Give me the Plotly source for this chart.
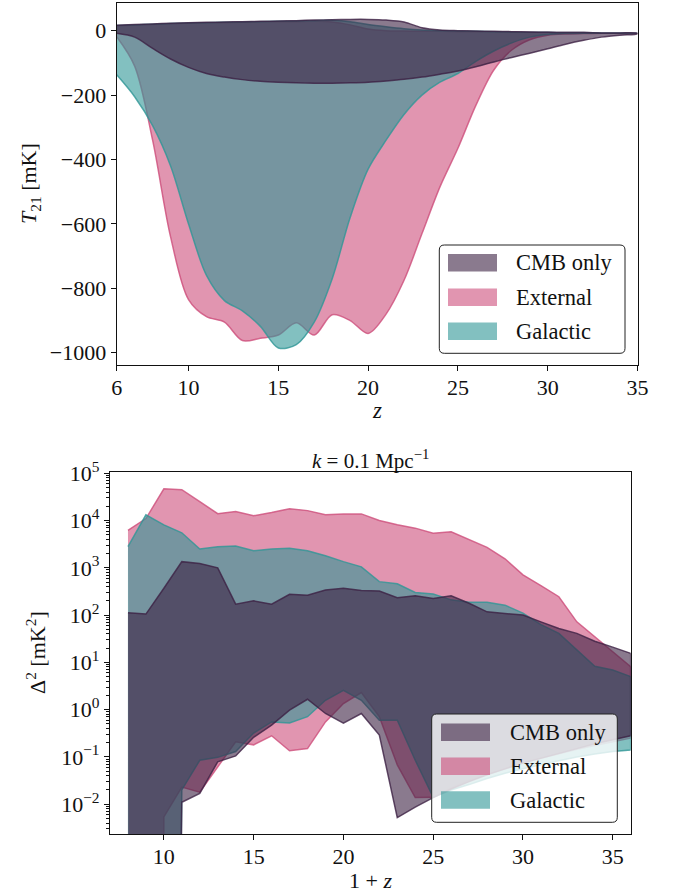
import plotly.graph_objects as go

W, H = 677, 896

# ---------------- Top panel data: global 21-cm signal bands ----------------
z_top = list(range(6, 36))  # z = 6 ... 35

cmb_upper_T = [17, 19, 21, 23, 25, 26, 27, 28, 29, 30, 31, 33, 34, 35, 35,
               33, 27, 9, 2, 0, -1, -2, -3, -4, -5, -6, -6, -7, -7, -8]
cmb_lower_T = [-8, -20, -55, -88, -114, -133, -144, -152, -157, -160, -162, -163, -163, -162, -160,
               -156, -151, -144, -135, -125, -112, -97, -83, -70, -56, -42, -30, -20, -14, -10]

ext_upper_T = [15, 17, 19, 21, 23, 24, 25, 26, 27, 28, 28, 29, 27, 18, 5,
               0, -1, -2, -2, -3, -3, -4, -4, -5, -5, -6, -6, -7, -7, -8]
ext_lower_T = [-19, -110, -340, -640, -835, -888, -905, -962, -955, -945, -907, -945, -882, -900, -940,
               -880, -775, -630, -485, -365, -232, -122, -60, -28, -14, -10, -9, -8, -8, -8]

gal_upper_T = [16, 18, 20, 22, 24, 25, 26, 27, 28, 29, 30, 31, 32, 28, 19,
               12, 6, 2, 0, -1, -2, -3, -4, -5, -5, -6, -6, -7, -7, -8]
gal_lower_T = [-137, -205, -295, -420, -600, -760, -838, -870, -918, -985, -975, -905, -770, -580, -430,
               -340, -260, -200, -160, -133, -95, -63, -38, -20, -12, -9, -8, -8, -8, -8]

# ---------------- Bottom panel data: power spectrum at k = 0.1 Mpc^-1 ----------------
one_plus_z = list(range(8, 37))  # 1+z = 8 ... 36

cmb_upper_P = [112, 105, 370, 1350, 1230, 1000, 170, 200, 170, 275, 263, 340, 370, 330, 324,
               234, 257, 224, 257, 178, 117, 110, 100, 72, 52, 41, 28, 21, 15.5]
cmb_lower_P = [0, 0, 0, 0.011, 0.017, 0.079, 0.105, 0.26, 0.47, 0.98, 1.66, 0.83, 0.52, 0.83, 0.29,
               0.0052, 0.0087, 0.0138, 0.021, 0.030, 0.042, 0.056, 0.074, 0.095, 0.12, 0.15, 0.19, 0.23, 0.28]

ext_upper_P = [6200, 11000, 47000, 45000, 25000, 14000, 15500, 12600, 14800, 17800, 16200, 13200, 13800, 13800, 10000,
               8100, 6900, 5400, 5800, 4000, 2700, 1550, 710, 420, 245, 72, 35, 17, 8.1]
ext_lower_P = [0, 0, 0.0054, 0.023, 0.018, 0.062, 0.21, 0.18, 0.28, 0.135, 0.15, 0.55, 1.35, 2.3, 0.71,
               0.068, 0.0138, 0.014, 0.022, 0.032, 0.042, 0.056, 0.076, 0.095, 0.117, 0.145, 0.174, 0.21, 0.25]

gal_upper_P = [2800, 13200, 8100, 5500, 2500, 2800, 2900, 2300, 2500, 2600, 2300, 1800, 1350, 1050, 510,
               460, 300, 280, 210, 186, 186, 162, 110, 63, 41, 18, 8.3, 6.9, 5.0]
gal_lower_P = [0, 0, 0, 0.020, 0.085, 0.098, 0.13, 0.32, 0.55, 0.52, 0.71, 1.58, 2.57, 1.58, 0.60,
               0.60, 0.085, 0.014, 0.020, 0.026, 0.035, 0.045, 0.056, 0.069, 0.083, 0.10, 0.115, 0.13, 0.14]

labels = ["CMB only", "External", "Galactic"]
base_rgb = {"CMB only": (60, 33, 67), "External": (205, 78, 123), "Galactic": (47, 150, 150)}
ALPHA = 0.6
FLOOR = 1e-100  # stand-in for zero on the log axis (far below the visible range)

FONT = "Liberation Serif"


def rgba(name, a):
    r, g, b = base_rgb[name]
    return f"rgba({r},{g},{b},{a})"


fig = go.Figure()

top_sets = {"External": (ext_upper_T, ext_lower_T),
            "Galactic": (gal_upper_T, gal_lower_T),
            "CMB only": (cmb_upper_T, cmb_lower_T)}
bot_sets = {"External": (ext_upper_P, ext_lower_P),
            "Galactic": (gal_upper_P, gal_lower_P),
            "CMB only": (cmb_upper_P, cmb_lower_P)}

for name in ["External", "Galactic", "CMB only"]:
    up, lo = top_sets[name]
    fig.add_trace(go.Scatter(
        x=z_top + z_top[::-1], y=up + lo[::-1], fill="toself",
        fillcolor=rgba(name, ALPHA), mode="lines",
        line=dict(color=rgba(name, 0.8), width=1.5, shape="spline", smoothing=0.9),
        xaxis="x", yaxis="y", showlegend=False, hoverinfo="skip", name=name))

for name in ["External", "Galactic", "CMB only"]:
    up, lo = bot_sets[name]
    lo_plot = [v if v > 0 else FLOOR for v in lo]
    fig.add_trace(go.Scatter(
        x=one_plus_z + one_plus_z[::-1], y=up + lo_plot[::-1], fill="toself",
        fillcolor=rgba(name, ALPHA), mode="lines",
        line=dict(color=rgba(name, 0.8), width=1.5),
        xaxis="x2", yaxis="y2", showlegend=False, hoverinfo="skip", name=name))


def fx(px):
    return px / W


def fy(py):
    return 1 - py / H


top_box = (116.7, 637.5, 3.3, 365.0)
bot_box = (110.0, 630.7, 472.3, 834.0)

axis_common = dict(showline=True, linecolor="#111", linewidth=1.1, mirror=True,
                   ticks="outside", ticklen=5, tickwidth=1, tickcolor="#111",
                   showgrid=False, zeroline=False, automargin=False,
                   tickfont=dict(family=FONT, size=22, color="#111"))

dec_vals = [10.0 ** k for k in range(-2, 6)]
dec_text = [f"10<sup>{str(k).replace('-', '−')}</sup>" for k in range(-2, 6)]
minor_vals = [m * 10.0 ** k for k in range(-3, 6) for m in range(2, 10)]

fig.update_layout(
    width=W, height=H, margin=dict(l=0, r=0, t=0, b=0, autoexpand=False),
    paper_bgcolor="white", plot_bgcolor="white", showlegend=False,
    xaxis=dict(domain=[fx(top_box[0]), fx(top_box[1])], anchor="y", ticklabelstandoff=-2,
               range=[6, 35], tickvals=[6, 10, 15, 20, 25, 30, 35], **axis_common),
    yaxis=dict(domain=[fy(top_box[3]), fy(top_box[2])], anchor="x",
               range=[-1038, 85], tickvals=[0, -200, -400, -600, -800, -1000], **axis_common),
    xaxis2=dict(domain=[fx(bot_box[0]), fx(bot_box[1])], anchor="y2", ticklabelstandoff=-2,
                range=[7, 36], tickvals=[10, 15, 20, 25, 30, 35], **axis_common),
    yaxis2=dict(domain=[fy(bot_box[3]), fy(bot_box[2])], anchor="x2", type="log",
                range=[-2.63, 5.02], tickvals=dec_vals, ticktext=dec_text,
                minor=dict(ticks="outside", ticklen=2.5, tickwidth=0.8, tickcolor="#111",
                           tickmode="array", tickvals=minor_vals, showgrid=False),
                **axis_common),
)


def ann(text, x, y, size, angle=0, xanchor="center", yanchor="middle"):
    return dict(text=text, x=fx(x), y=fy(y), xref="paper", yref="paper", showarrow=False,
                textangle=angle, xanchor=xanchor, yanchor=yanchor,
                font=dict(family=FONT, size=size, color="#111"))


annotations = [
    ann("<i>z</i>", 377, 396, 23, yanchor="top"),
    ann("<i>T</i><sub>21</sub> [mK]", 30, 184, 22, angle=-90),
    ann("<i>k</i> = 0.1 Mpc<sup>−1</sup>", 370.5, 459, 21),
    ann("1 + <i>z</i>", 370, 866, 22, yanchor="top"),
    ann("Δ<sup>2</sup> [mK<sup>2</sup>]", 36, 653, 22, angle=-90),
]

shapes = []


def rounded_rect(x0, x1, y0, y1, r):
    X0, X1 = fx(x0), fx(x1)
    Y0, Y1 = fy(y0), fy(y1)
    rx, ry = r / W, r / H
    return (f"M {X0+rx},{Y0} L {X1-rx},{Y0} Q {X1},{Y0} {X1},{Y0-ry} "
            f"L {X1},{Y1+ry} Q {X1},{Y1} {X1-rx},{Y1} L {X0+rx},{Y1} "
            f"Q {X0},{Y1} {X0},{Y1+ry} L {X0},{Y0-ry} Q {X0},{Y0} {X0+rx},{Y0} Z")


def add_legend(box, patch_x, rows, text_x):
    x0, x1, y0, y1 = box
    shapes.append(dict(type="path", path=rounded_rect(x0, x1, y0, y1, 5), xref="paper", yref="paper",
                       fillcolor="rgba(255,255,255,0.8)", line=dict(color="#222", width=1), layer="above"))
    for name, yc in zip(labels, rows):
        shapes.append(dict(type="rect", xref="paper", yref="paper",
                           x0=fx(patch_x[0]), x1=fx(patch_x[1]), y0=fy(yc - 8.8), y1=fy(yc + 8.8),
                           fillcolor=rgba(name, ALPHA), line=dict(width=0), layer="above"))
        annotations.append(ann(name, text_x, yc, 22.5, xanchor="left"))


add_legend((439.3, 625.0, 245.0, 353.3), (448, 497), [262.8, 297.2, 331.2], 514)
add_legend((431.7, 617.3, 714.0, 822.3), (441, 490), [732.2, 766.2, 800.0], 508)

fig.update_layout(annotations=annotations, shapes=shapes)

fig.write_html("out.html", config={"displayModeBar": False},
               post_script="document.body.style.margin='0px';")
